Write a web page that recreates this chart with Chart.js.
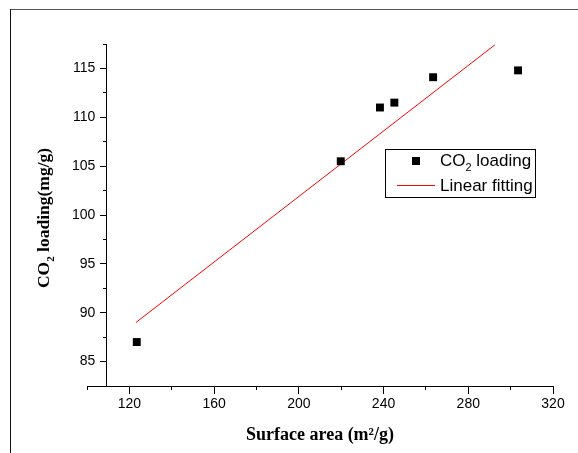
<!DOCTYPE html>
<html>
<head>
<meta charset="utf-8">
<script src="https://cdn.jsdelivr.net/npm/chart.js@4.4.1/dist/chart.umd.min.js"></script>
<style>
  html, body { margin: 0; padding: 0; background: #fff; }
  #wrap { width: 578px; height: 453px; }
</style>
</head>
<body>
<div id="wrap"><canvas id="scatter-co2" width="578" height="453"></canvas></div>
<script>
// data
var surfaceArea = [123.5, 219.8, 238.3, 245.1, 263.4, 303.5];
var co2Loading = [87.0, 105.5, 111.0, 111.5, 114.1, 114.8];
var fitX = [123.1, 292.5];
var fitY = [89.0, 117.4];

var xMajorTicks = [120, 160, 200, 240, 280, 320];
var xMinorTicks = [100, 140, 180, 220, 260, 300];
var yMajorTicks = [85, 90, 95, 100, 105, 110, 115];
var yMinorTicks = [87.5, 92.5, 97.5, 102.5, 107.5, 112.5, 117.5];

var xTitle = 'Surface area (m²/g)';
var yTitle = 'CO₂ loading(mg/g)';
var seriesLabels = ['CO₂ loading', 'Linear fitting'];

var sans = '"Liberation Sans", Arial, sans-serif';
var serif = '"Liberation Serif", "Times New Roman", serif';

function points(xs, ys) {
  return xs.map(function (x, i) { return { x: x, y: ys[i] }; });
}
function tickList(vals) {
  return function (s) { s.ticks = vals.map(function (v) { return { value: v }; }); };
}

// text with subscript / superscript 2
function drawRich(ctx, text, x, y, size, family, weight, align) {
  var parts = [];
  for (var ch of text) {
    if (ch === '₂') parts.push({ t: '2', dy: size * 0.3, small: true });
    else if (ch === '²') parts.push({ t: '2', dy: -size * 0.4, small: true });
    else if (parts.length && !parts[parts.length - 1].small) parts[parts.length - 1].t += ch;
    else parts.push({ t: ch, dy: 0, small: false });
  }
  var total = 0;
  parts.forEach(function (p) {
    p.font = weight + ' ' + (p.small ? Math.round(size * 0.62) : size) + 'px ' + family;
    ctx.font = p.font;
    p.w = ctx.measureText(p.t).width;
    total += p.w;
  });
  var cx = align === 'center' ? x - total / 2 : x;
  ctx.textAlign = 'left';
  ctx.textBaseline = 'alphabetic';
  parts.forEach(function (p) {
    ctx.font = p.font;
    ctx.fillText(p.t, cx, y + p.dy);
    cx += p.w;
  });
}

var framePlugin = {
  id: 'frame',
  beforeDraw: function (chart) {
    var ctx = chart.ctx;
    ctx.save();
    ctx.fillStyle = '#fff';
    ctx.fillRect(0, 0, chart.width, chart.height);
    ctx.lineWidth = 1;
    ctx.strokeStyle = '#555';
    ctx.beginPath();
    ctx.moveTo(10, 9.5);
    ctx.lineTo(chart.width, 9.5);
    ctx.stroke();
    ctx.strokeStyle = '#111';
    ctx.beginPath();
    ctx.moveTo(10.5, 9);
    ctx.lineTo(10.5, chart.height);
    ctx.stroke();
    ctx.restore();
  }
};

var extrasPlugin = {
  id: 'extras',
  afterDraw: function (chart) {
    var ctx = chart.ctx;
    var ds = chart.data.datasets;
    ctx.save();
    ctx.fillStyle = '#000';
    // y axis title
    ctx.translate(43, 218);
    ctx.rotate(-Math.PI / 2);
    drawRich(ctx, yTitle, 0, 6, 17.5, serif, 'bold', 'center');
    ctx.restore();

    // legend box
    ctx.save();
    ctx.strokeStyle = '#000';
    ctx.lineWidth = 1;
    ctx.strokeRect(385.5, 149.5, 150, 48);
    ctx.fillStyle = ds[0].backgroundColor;
    ctx.fillRect(412, 157, 8, 8);
    ctx.strokeStyle = ds[1].borderColor;
    ctx.beginPath();
    ctx.moveTo(397, 185.5);
    ctx.lineTo(435, 185.5);
    ctx.stroke();
    ctx.fillStyle = '#000';
    drawRich(ctx, ds[0].label, 440, 166, 17, sans, 'normal', 'left');
    drawRich(ctx, ds[1].label, 440, 191, 17, sans, 'normal', 'left');
    ctx.restore();
  }
};

var tickFont = { family: sans, size: 14 };

var ctxEl = document.getElementById('scatter-co2');
var chart = new Chart(ctxEl, {
  type: 'scatter',
  data: {
    datasets: [{
      label: seriesLabels[0],
      data: points(surfaceArea, co2Loading),
      pointStyle: 'rect',
      pointRadius: 5.6,
      backgroundColor: '#000',
      borderColor: '#000',
      borderWidth: 0,
      showLine: false
    }, {
      label: seriesLabels[1],
      type: 'line',
      data: points(fitX, fitY),
      borderColor: 'rgb(255,0,0)',
      backgroundColor: 'transparent',
      borderWidth: 1,
      pointRadius: 0,
      fill: false
    }]
  },
  options: {
    responsive: false,
    animation: false,
    layout: { padding: { left: 87, right: 25, top: 44, bottom: 67 } },
    plugins: {
      legend: { display: false },
      tooltip: { enabled: false }
    },
    scales: {
      x: {
        type: 'linear',
        position: { y: 82.5 },
        min: 100,
        max: 320,
        afterBuildTicks: tickList(xMajorTicks),
        ticks: { color: '#000', font: tickFont, padding: 3, maxRotation: 0 },
        grid: { drawOnChartArea: false, tickLength: 7, tickColor: '#000' },
        border: { color: '#000', width: 1 },
        title: {
          display: true,
          text: xTitle,
          color: '#000',
          font: { family: serif, size: 18, weight: 'bold' },
          padding: { top: 9, bottom: 0 }
        }
      },
      x2: {
        type: 'linear',
        axis: 'x',
        position: { y: 82.5 },
        min: 100,
        max: 320,
        afterBuildTicks: tickList(xMinorTicks),
        ticks: { display: false },
        grid: { drawOnChartArea: false, tickLength: 4, tickColor: '#000' },
        border: { display: false }
      },
      y: {
        type: 'linear',
        position: { x: 109 },
        min: 82.5,
        max: 117.5,
        afterBuildTicks: tickList(yMajorTicks),
        ticks: { display: false },
        grid: { drawOnChartArea: false, tickLength: 6, tickColor: '#000' },
        border: { color: '#000', width: 1 }
      },
      y2: {
        type: 'linear',
        axis: 'y',
        position: { x: 109 },
        min: 82.5,
        max: 117.5,
        afterBuildTicks: tickList(yMinorTicks),
        ticks: { display: false },
        grid: { drawOnChartArea: false, tickLength: 3, tickColor: '#000' },
        border: { display: false }
      },
      // y tick labels, right-aligned a little left of the axis line
      yLabels: {
        type: 'linear',
        axis: 'y',
        position: { x: 103.9 },
        min: 82.5,
        max: 117.5,
        afterBuildTicks: tickList(yMajorTicks),
        ticks: { color: '#000', font: tickFont },
        grid: { display: false, drawTicks: false },
        border: { display: false }
      }
    }
  },
  plugins: [framePlugin, extrasPlugin]
});
</script>
</body>
</html>
